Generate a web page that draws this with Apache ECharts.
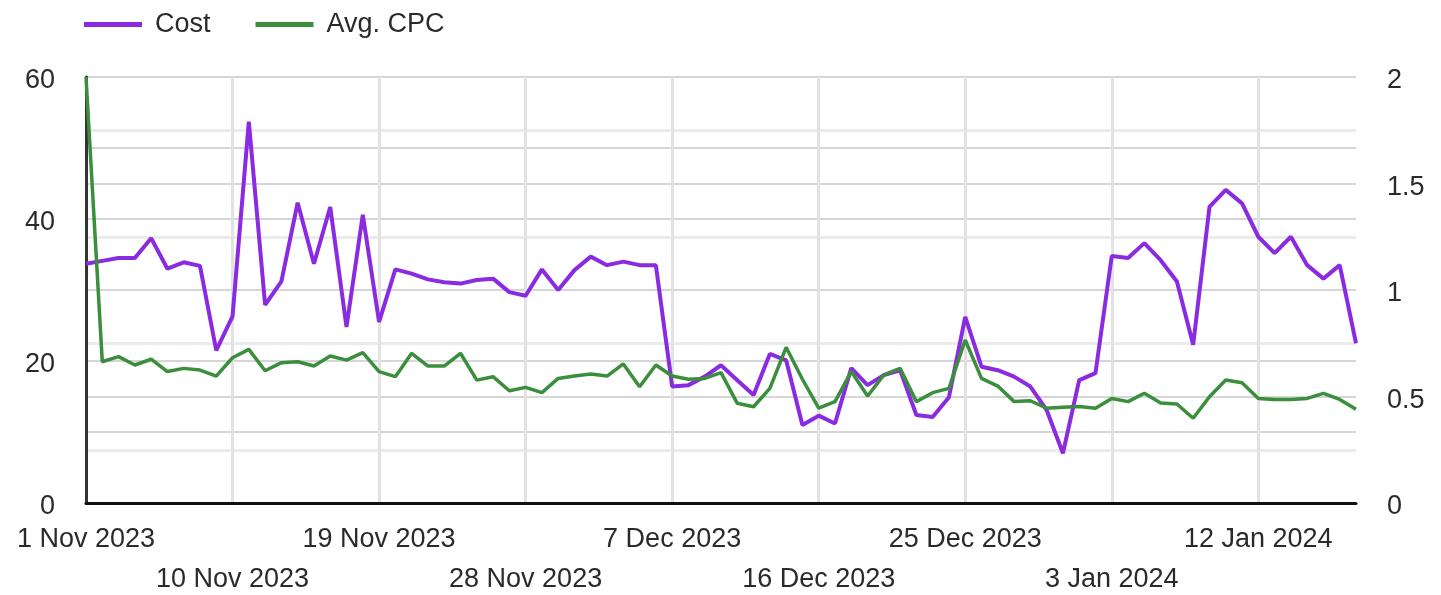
<!DOCTYPE html>
<html>
<head>
<meta charset="utf-8">
<script src="https://cdn.jsdelivr.net/npm/echarts@6/dist/echarts.min.js"></script>
<style>
  html, body { margin: 0; padding: 0; background: #fff; }
  #chart { width: 1441px; height: 595px; }
</style>
</head>
<body>
<div id="chart"></div>
<script>
// daily points, 1 Nov 2023 .. 18 Jan 2024
const startDay = Date.UTC(2023, 10, 1)
const dayCount = 79
const monthNames = ['Jan', 'Feb', 'Mar', 'Apr', 'May', 'Jun', 'Jul', 'Aug', 'Sep', 'Oct', 'Nov', 'Dec']
const dates = []
for (let i = 0; i < dayCount; i++) {
  const d = new Date(startDay + i * 86400000)
  dates.push(d.getUTCDate() + ' ' + monthNames[d.getUTCMonth()] + ' ' + d.getUTCFullYear())
}

const costValues = [
  33.7, 34.1, 34.5, 34.5, 37.3, 33.0, 33.9, 33.4, 21.5, 26.3,
  53.7, 27.9, 31.2, 42.3, 33.7, 41.7, 24.8, 40.6, 25.5, 32.9,
  32.3, 31.5, 31.1, 30.9, 31.4, 31.6, 29.7, 29.2, 32.9, 30.0,
  32.8, 34.7, 33.5, 34.0, 33.5, 33.5, 16.4, 16.6, 17.8, 19.4,
  17.3, 15.2, 21.0, 20.1, 11.0, 12.3, 11.2, 19.0, 16.6, 18.0,
  18.7, 12.4, 12.1, 14.9, 26.2, 19.2, 18.7, 17.8, 16.4, 13.1,
  7.0, 17.3, 18.3, 34.8, 34.5, 36.6, 34.2, 31.2, 22.3, 41.7,
  44.1, 42.2, 37.5, 35.2, 37.5, 33.5, 31.6, 33.5, 22.5
]

const cpcValues = [
  2.0, 0.663, 0.687, 0.648, 0.675, 0.617, 0.632, 0.624, 0.596, 0.682,
  0.721, 0.621, 0.659, 0.663, 0.643, 0.69, 0.671, 0.706, 0.617, 0.593,
  0.703, 0.643, 0.643, 0.703, 0.577, 0.593, 0.527, 0.543, 0.518, 0.585,
  0.596, 0.606, 0.596, 0.653, 0.546, 0.648, 0.596, 0.581, 0.585, 0.612,
  0.468, 0.452, 0.538, 0.731, 0.581, 0.445, 0.476, 0.617, 0.502, 0.601,
  0.632, 0.476, 0.518, 0.538, 0.765, 0.585, 0.549, 0.476, 0.48, 0.445,
  0.45, 0.453, 0.445, 0.491, 0.476, 0.515, 0.47, 0.465, 0.398, 0.499,
  0.577, 0.565, 0.491, 0.486, 0.486, 0.491, 0.515, 0.486, 0.44
]

const seriesNames = ['Cost', 'Avg. CPC']
const fontFamily = '"Liberation Sans", Arial, sans-serif'

// y labels sit a little below their gridline in the source
const yLabel = {
  fontSize: 27,
  color: '#2a2a2a',
  margin: 31,
  fontFamily: fontFamily,
  formatter: value => '{v|' + value + '}',
  rich: {
    v: { fontSize: 27, color: '#2a2a2a', fontFamily: fontFamily, padding: [8, 0, 0, 0] }
  }
}

const myChart = echarts.init(document.getElementById('chart'))
myChart.setOption({
  animation: false,
  color: ['#8a2be2', '#3a8e3c'],
  textStyle: { fontFamily: fontFamily },
  legend: {
    left: 79,
    top: 6,
    icon: 'rect',
    itemWidth: 58,
    itemHeight: 5,
    itemGap: 45,
    textStyle: { fontSize: 27, color: '#2a2a2a', fontFamily: fontFamily, padding: [0, 0, 0, 8] },
    data: seriesNames
  },
  grid: {
    left: 86,
    right: 85,
    top: 77,
    bottom: 92,
    outerBoundsMode: 'none'
  },
  xAxis: {
    type: 'category',
    boundaryGap: false,
    data: dates,
    axisLine: { lineStyle: { color: '#111', width: 3 } },
    axisTick: { show: false },
    axisLabel: {
      interval: 8,
      margin: 17,
      fontSize: 27,
      lineHeight: 40,
      color: '#2a2a2a',
      fontFamily: fontFamily,
      formatter: (value, index) => {
        // alternate two rows like the source
        return (Math.round(index / 9) % 2 === 1) ? '\n' + value : value
      }
    },
    splitLine: {
      show: true,
      interval: 8,
      lineStyle: { color: '#e2e2e2', width: 3 }
    }
  },
  yAxis: [
    {
      type: 'value',
      min: 0,
      max: 60,
      interval: 20,
      axisLine: { show: true, lineStyle: { color: '#333', width: 3 } },
      axisTick: { show: false },
      axisLabel: yLabel,
      splitLine: { lineStyle: { color: '#d6d6d6', width: 2 } },
      minorSplitLine: { show: true, lineStyle: { color: '#d6d6d6', width: 2 } },
      minorTick: { show: false, splitNumber: 2 }
    },
    {
      type: 'value',
      min: 0,
      max: 2,
      interval: 0.5,
      position: 'right',
      axisLine: { show: false },
      axisTick: { show: false },
      axisLabel: yLabel,
      splitLine: { lineStyle: { color: '#d6d6d6', width: 2 } },
      minorSplitLine: { show: true, lineStyle: { color: '#ebebeb', width: 3 } },
      minorTick: { show: false, splitNumber: 2 }
    }
  ],
  series: [
    {
      name: seriesNames[0],
      type: 'line',
      yAxisIndex: 0,
      showSymbol: false,
      lineStyle: { width: 4 },
      data: costValues
    },
    {
      name: seriesNames[1],
      type: 'line',
      yAxisIndex: 1,
      showSymbol: false,
      lineStyle: { width: 3.5 },
      data: cpcValues
    }
  ]
})
</script>
</body>
</html>
